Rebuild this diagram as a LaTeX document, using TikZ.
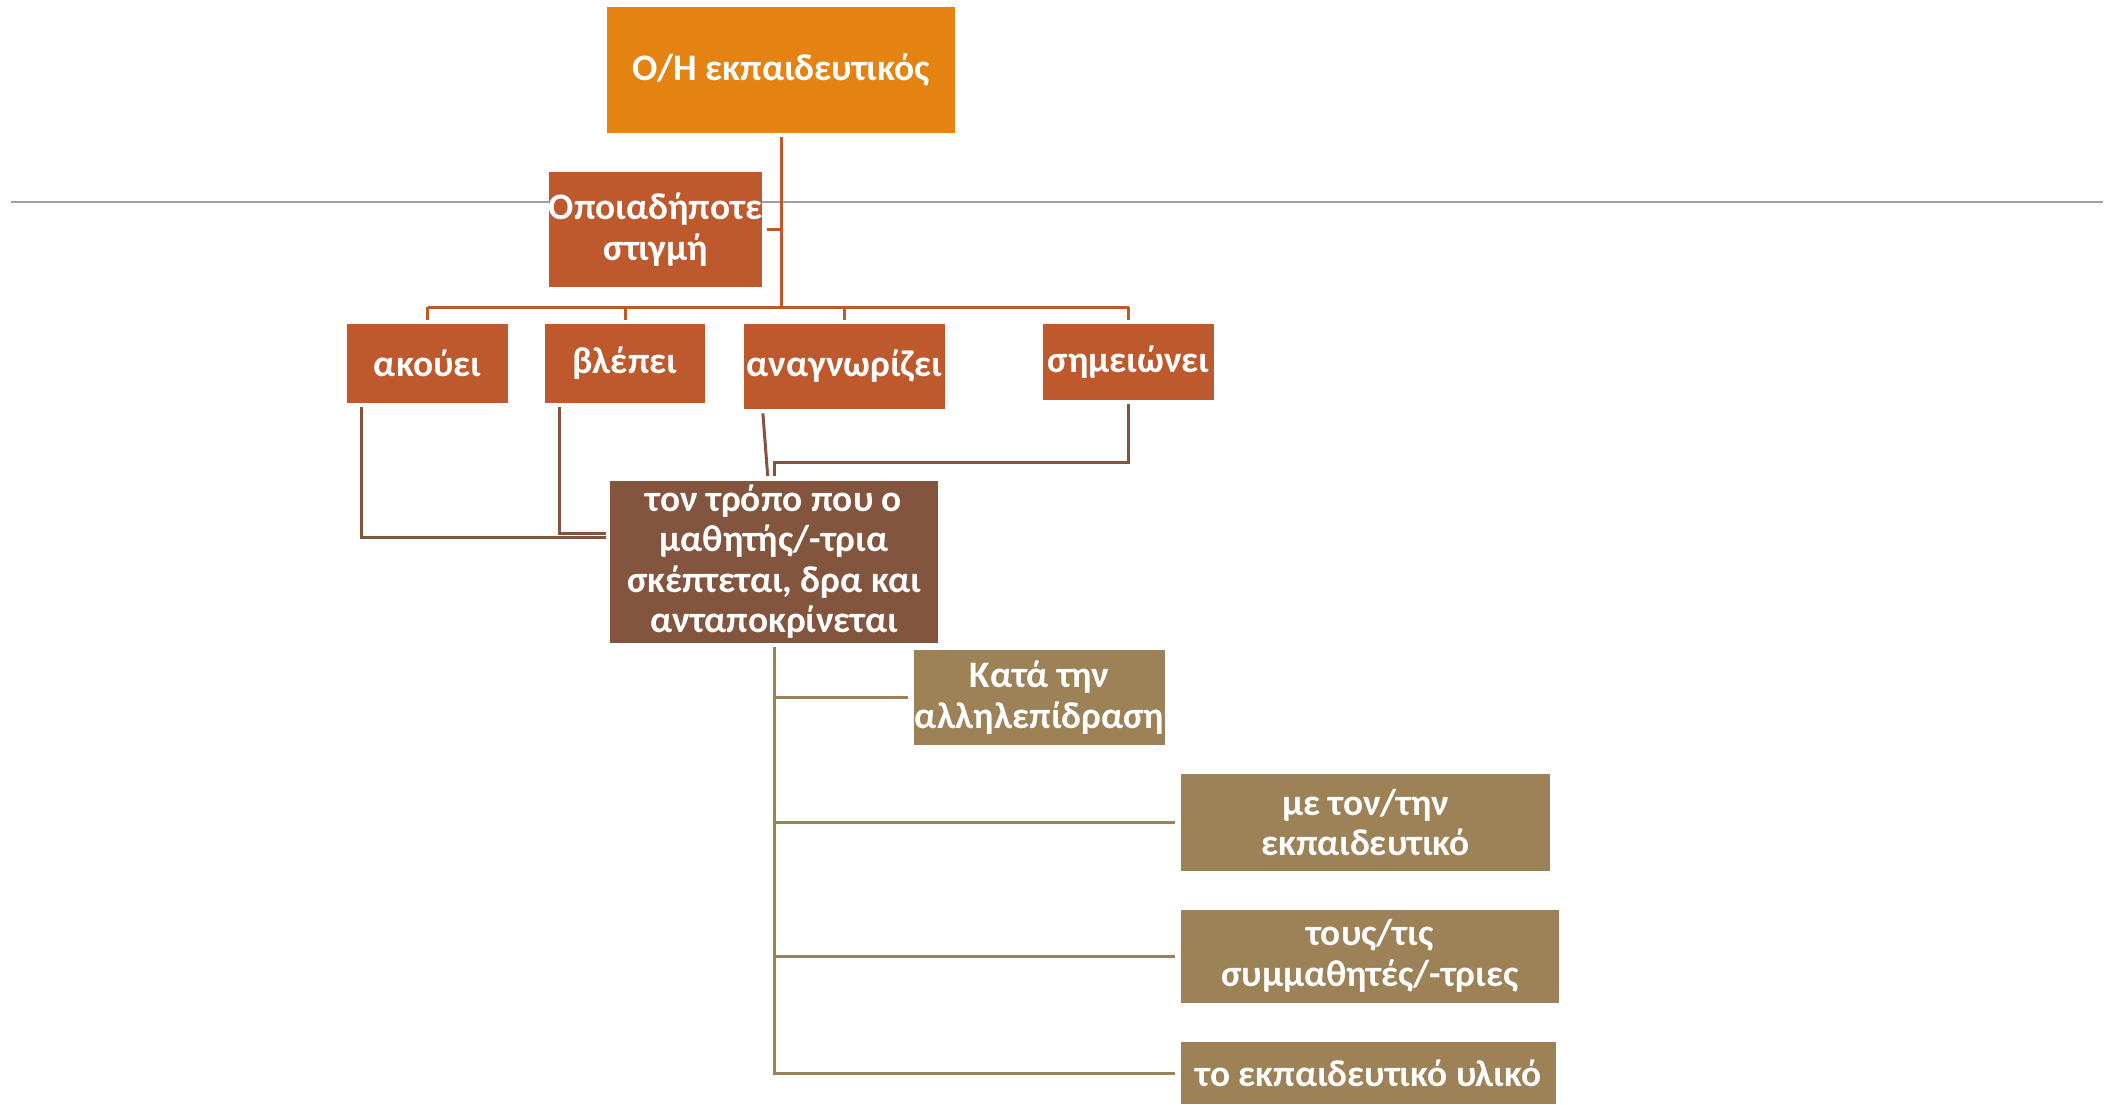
\documentclass[tikz,border=0pt]{standalone}
\usepackage{fontspec}
\setmainfont{Carlito}
\usetikzlibrary{positioning}

\definecolor{orangebox}{RGB}{228,131,18}
\definecolor{rustbox}{RGB}{190,88,45}
\definecolor{brownbox}{RGB}{132,85,62}
\definecolor{goldbox}{RGB}{157,130,87}

\begin{document}
\begin{tikzpicture}[x=0.5pt,y=-0.5pt,
	box/.style={rectangle, inner sep=0pt, align=center, text=white,
		font=\fontsize{18.7}{20.2}\selectfont\bfseries},
	rustline/.style={rustbox, line width=1.5pt},
	brownline/.style={brownbox, line width=1.5pt},
	goldline/.style={goldbox, line width=1.5pt}]
	\useasboundingbox (0,0) rectangle (2111,1104);

	% rule across the page
	\draw[gray!75, line width=1pt] (11,202) -- (2103,202);

	\node[box, fill=orangebox, minimum width=174pt, minimum height=63pt] (teacher) at (781,70) {Ο/Η εκπαιδευτικός};
	\node[box, fill=rustbox, minimum width=106.5pt, minimum height=57.5pt] (anytime) at (655.5,229.5) {Οποιαδήποτε\\στιγμή};
	\node[box, fill=rustbox, minimum width=80.5pt, minimum height=39.5pt] (hears) at (427.5,363.5) {ακούει};
	\node[box, fill=rustbox, minimum width=80pt, minimum height=39.5pt] (sees) at (625,363.5) {βλέπει};
	\node[box, fill=rustbox, minimum width=100.5pt, minimum height=42.5pt] (recognises) at (844.5,366.5) {αναγνωρίζει};
	\node[box, fill=rustbox, minimum width=85.5pt, minimum height=38pt] (notes) at (1128.5,362) {σημειώνει};
	\node[box, fill=brownbox, minimum width=164pt, minimum height=81pt] (way) at (774,561.5) {τον τρόπο που ο\\μαθητής/-τρια\\σκέπτεται, δρα και\\ανταποκρίνεται};
	\node[box, fill=goldbox, minimum width=125.5pt, minimum height=47.5pt] (during) at (1039.5,697.5) {Κατά την\\αλληλεπίδραση};
	\node[box, fill=goldbox, minimum width=184.5pt, minimum height=48.5pt] (teach) at (1365.5,822.5) {με τον/την\\εκπαιδευτικό};
	\node[box, fill=goldbox, minimum width=189pt, minimum height=46.5pt] (peers) at (1370,956) {τους/τις\\συμμαθητές/-τριες};
	\node[box, fill=goldbox, minimum width=187.5pt, minimum height=31pt] (material) at (1368.5,1073) {το εκπαιδευτικό υλικό};

	% upper tree
	\coordinate (bus) at (781,307);
	\draw[rustline, shorten <=2pt] (teacher) -- (bus);
	\draw[rustline, shorten <=2pt] (anytime.east) -- (anytime.east -| bus);
	\draw[rustline] (hears |- bus) -- (notes |- bus);
	\foreach \n in {hears,sees,recognises,notes}
		\draw[rustline, shorten >=2pt] (\n |- bus) -- (\n.north);

	% into the middle box
	\draw[brownline, shorten <=2pt, shorten >=2pt] ([xshift=7.5pt]hears.south west) |- ([yshift=12.25pt]way.west);
	\draw[brownline, shorten <=2pt, shorten >=2pt] ([xshift=7.5pt]sees.south west) |- ([yshift=14.25pt]way.west);
	\draw[brownline, shorten <=2pt, shorten >=2pt] ([xshift=9.5pt]recognises.south west) -- ([xshift=-3pt]way.north);
	\draw[brownline, shorten <=2pt, shorten >=2pt] (notes.south) |- ([yshift=9pt]way.north) -- (way.north);

	% lower tree
	\draw[goldline, shorten <=2pt, shorten >=3pt] (way.south) |- (material.west);
	\foreach \n in {during,teach,peers}
		\draw[goldline, shorten >=3pt] (way.south |- \n.west) -- (\n.west);
\end{tikzpicture}
\end{document}
